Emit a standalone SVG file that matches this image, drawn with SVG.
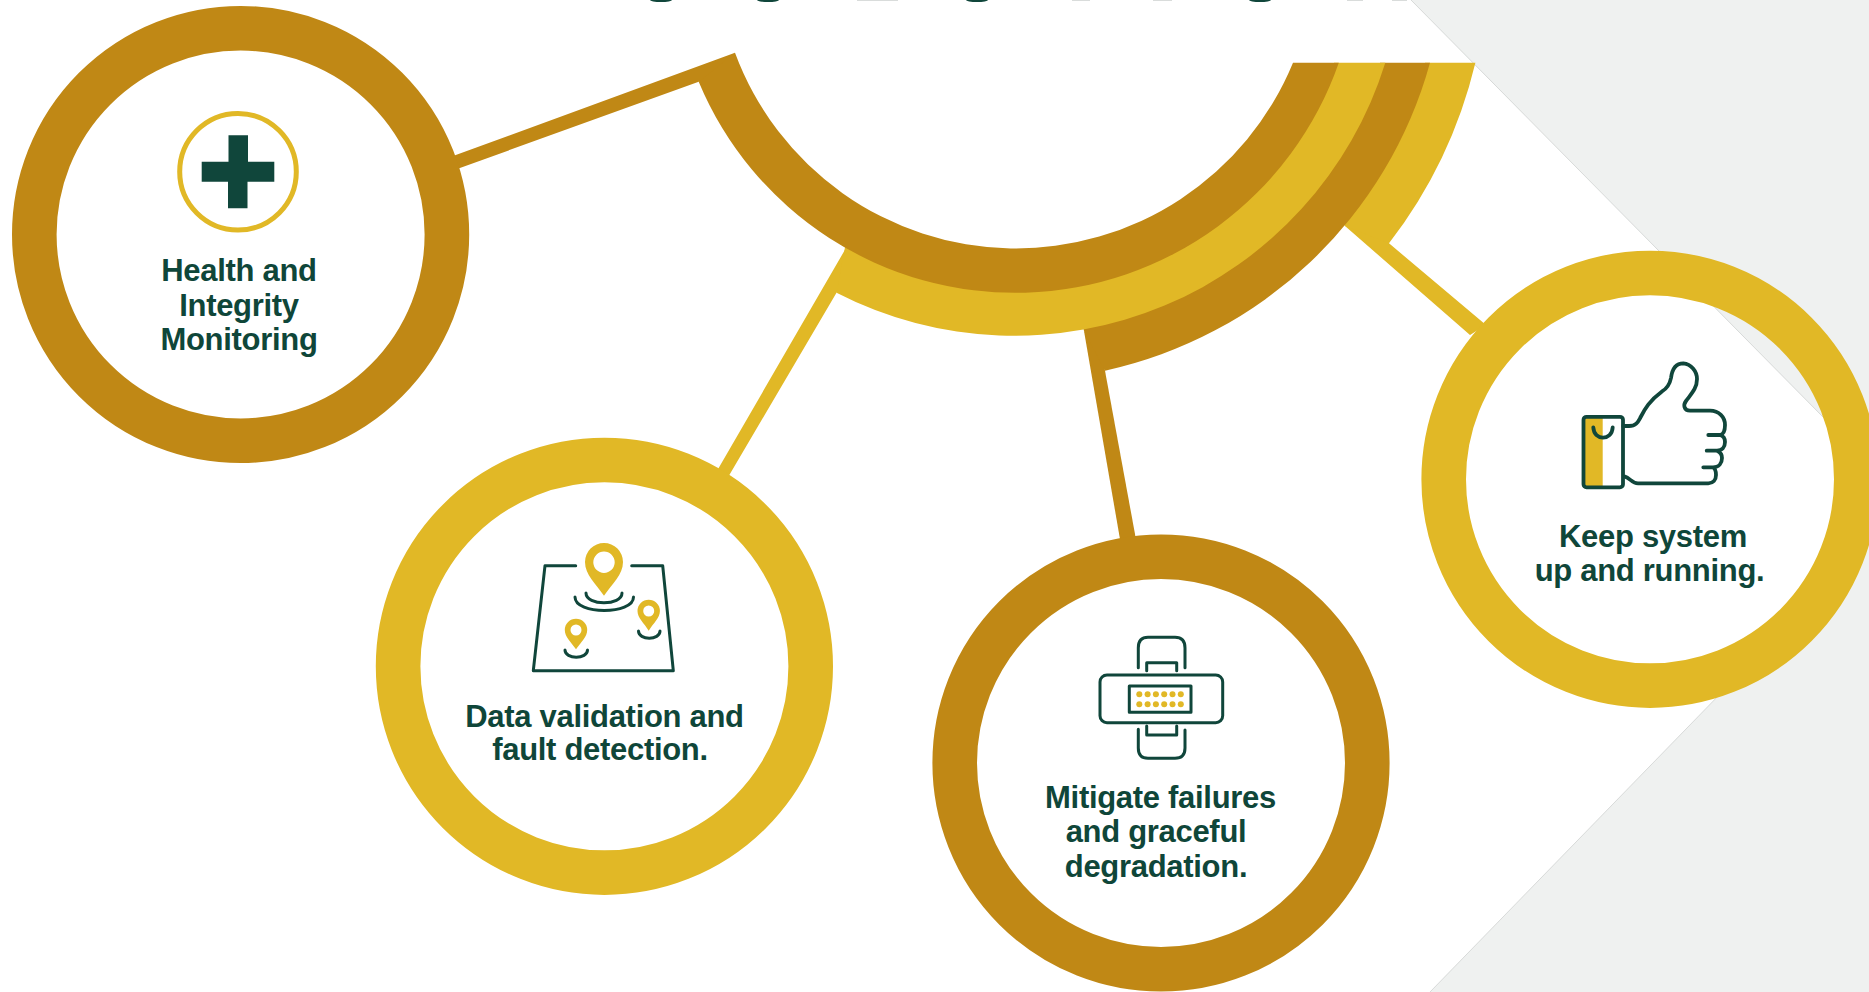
<svg xmlns="http://www.w3.org/2000/svg" width="1869" height="992" viewBox="0 0 1869 992">
<style>
.brown{fill:#c08815}
.gold{fill:#e1b826}
.rb{fill:none;stroke:#c08815;stroke-width:44.6}
.rg{fill:none;stroke:#e1b826;stroke-width:44.6}
.t{font-family:"Liberation Sans",Arial,sans-serif;font-weight:700;font-size:31px;letter-spacing:-0.3px;fill:#0f4639;text-anchor:middle}
.ic{fill:none;stroke:#10463b;stroke-width:3;stroke-linecap:round;stroke-linejoin:round}
.th{stroke-width:3.8}
.frag{fill:#10463b}
.fragl{fill:#d9dcdb}
</style>
<rect width="1869" height="992" fill="#fff"/>
<path id="backdrop" d="M1411,0 L1869,0 L1869,992 L1430,992 L1907,502 Z" fill="#eff1f0"/>
<path d="M1411,0 L1907,502 L1430,992" fill="none" stroke="#cfd2d1" stroke-width="0.8"/>
<g id="title-fragments">
<ellipse class="frag" cx="661" cy="0" rx="11" ry="2"/><ellipse class="frag" cx="768" cy="0" rx="11" ry="2"/><ellipse class="frag" cx="977" cy="0" rx="11" ry="2"/><ellipse class="frag" cx="1260" cy="0" rx="11" ry="2"/>
<rect class="fragl" x="857" y="0" width="41" height="1"/><rect class="fragl" x="1072" y="0" width="18" height="1"/><rect class="fragl" x="1153" y="0" width="19" height="1"/><rect class="fragl" x="1347" y="0" width="16" height="1"/><rect class="fragl" x="1392" y="0" width="15" height="1"/>
</g>
<g id="connectors">
<polygon class="brown" points="440,160.8 735,52.7 728,80 698.7,81.7 446,173"/>
<polygon class="gold" points="846,248 714.6,475 726.4,480 836.5,292.7 850,275"/>
<polygon class="brown" points="1084,331 1121,545 1137,545 1105,370.7 1100,345"/>
<polygon class="gold" points="1345,226 1470,335 1486,325 1389,243.3 1370,220"/>
</g>
<g id="hub">
<path class="gold" d="M1425,62.7 L1475.4,62.7 A478,478 0 0 1 1389,243.3 L1345,226 L1341,221 A428,428 0 0 0 1425,62.7 Z"/>
<path class="brown" d="M1380,62.7 L1430,62.7 A433,433 0 0 1 1105,370.7 L1084,331 L1083,326 A383,383 0 0 0 1380,62.7 Z"/>
<path class="gold" d="M1334,62.7 L1385.3,62.7 A388.5,388.5 0 0 1 836.5,292.7 L845,247.3 L847,240 A338,338 0 0 0 1334,62.7 Z"/>
<path class="brown" d="M735,52.7 A299.5,299.5 0 0 0 1293,62.7 L1338.8,62.7 A342.7,342.7 0 0 1 698.7,81.7 Z"/>
</g>
<g id="node-health">
<circle class="rb" cx="240.6" cy="234.5" r="206.3"/>
<circle cx="238" cy="171.8" r="58.3" fill="none" stroke="#e1b826" stroke-width="5"/>
<path d="M228.5,135.3 H248 V161.7 H274.3 V181.7 H247.5 V208.3 H228 V181.7 H201.7 V161.7 H228.5 Z" fill="#10463b"/>
<text class="t" x="239" y="281">Health and</text>
<text class="t" x="239" y="315.5">Integrity</text>
<text class="t" x="239" y="350">Monitoring</text>
</g>
<g id="node-data">
<circle class="rg" cx="604.4" cy="666.3" r="206.3"/>
<path class="ic" d="M575.7,565.7 H545 L533.3,670.7 H673.3 L662.7,565.7 H631.7"/>
<path class="ic" d="M586,593 C586,606 622,606 622,593 M575,597 C575,615 633.5,615 633.5,597 M638.5,631 C638.5,640.5 660,640.5 660,631 M565,650 C565,659.5 587.5,659.5 587.5,650"/>
<path class="gold" fill-rule="evenodd" d="M604,595.7 C596,584 585,575 585,562 A19,19 0 1 1 623,562 C623,575 612,584 604,595.7 Z M593.3,562.3 A10.7,10.7 0 1 0 614.7,562.3 A10.7,10.7 0 1 0 593.3,562.3 Z"/>
<path class="gold" fill-rule="evenodd" d="M648.7,630.7 C644,623 637.5,618 637.5,611 A11.2,11.2 0 1 1 659.9,611 C659.9,618 653.5,623 648.7,630.7 Z M643.2,611 A5.5,5.5 0 1 0 654.2,611 A5.5,5.5 0 1 0 643.2,611 Z"/>
<path class="gold" fill-rule="evenodd" d="M576,649.3 C571,642 564.8,637 564.8,630 A11.2,11.2 0 1 1 587.2,630 C587.2,637 581,642 576,649.3 Z M570.5,630 A5.5,5.5 0 1 0 581.5,630 A5.5,5.5 0 1 0 570.5,630 Z"/>
<text class="t" x="604.5" y="726.5">Data validation and</text>
<text class="t" x="600" y="760">fault detection.</text>
</g>
<g id="node-mitigate">
<circle class="rb" cx="1161" cy="763" r="206.3"/>
<rect class="ic" x="1100" y="675" width="122.7" height="47.7" rx="7"/>
<rect class="ic" x="1129.3" y="686" width="61.7" height="26.3"/>
<g fill="#e1b826">
<circle cx="1139.3" cy="694.3" r="3"/><circle cx="1147.6" cy="694.3" r="3"/><circle cx="1155.9" cy="694.3" r="3"/><circle cx="1164.2" cy="694.3" r="3"/><circle cx="1172.5" cy="694.3" r="3"/><circle cx="1180.8" cy="694.3" r="3"/>
<circle cx="1139.3" cy="704.3" r="3"/><circle cx="1147.6" cy="704.3" r="3"/><circle cx="1155.9" cy="704.3" r="3"/><circle cx="1164.2" cy="704.3" r="3"/><circle cx="1172.5" cy="704.3" r="3"/><circle cx="1180.8" cy="704.3" r="3"/>
</g>
<path class="ic" d="M1138.3,667.7 V648 Q1138.3,637.3 1148,637.3 H1175 Q1185,637.3 1185,648 V667.7 M1146.7,670.7 V662.7 H1176.7 V670.7 M1138.3,729.3 V748 Q1138.3,758.3 1148,758.3 H1175 Q1185,758.3 1185,748 V730 M1146.7,726 V735 H1176.7 V726"/>
<text class="t" x="1160.5" y="807.5">Mitigate failures</text>
<text class="t" x="1156" y="842">and graceful</text>
<text class="t" x="1156" y="876.5">degradation.</text>
</g>
<g id="node-keep">
<circle class="rg" cx="1650" cy="479.3" r="206.3"/>
<rect class="gold" x="1584" y="417" width="18.7" height="70"/>
<rect class="ic th" x="1583.5" y="416.8" width="39.5" height="70.5" rx="3"/>
<path class="ic th" d="M1593.3,427.3 C1594,441 1612,441 1612.7,427.3 M1623.3,426 H1629 C1636,426 1638,422 1640,418.3 C1644,411 1648,401.7 1661.7,391.7 C1668,388 1670,383 1671,378 C1672,370 1675,363.3 1683.3,363.3 C1691,364 1697,371 1697,379 C1697,388 1692,393 1686,401 C1683,405 1684,410.7 1690,410.7 H1710 C1719,410.7 1725,417 1725,425 C1725,430 1724,434.3 1720,435 H1708.3 H1720 C1724,436 1725,439 1725,442 C1725,447 1722,450.7 1717,450.7 H1706.7 H1717 C1720,452 1722,455 1722,458 C1722,463 1719,467.3 1713,467.3 H1703.3 H1713 C1716,469 1716,472 1716,475 C1716,480 1713,483.3 1708.3,483.3 H1638 C1632,483.3 1630,478 1625,476.7"/>
<text class="t" x="1653" y="546.5">Keep system</text>
<text class="t" x="1649.5" y="581">up and running.</text>
</g>
</svg>
